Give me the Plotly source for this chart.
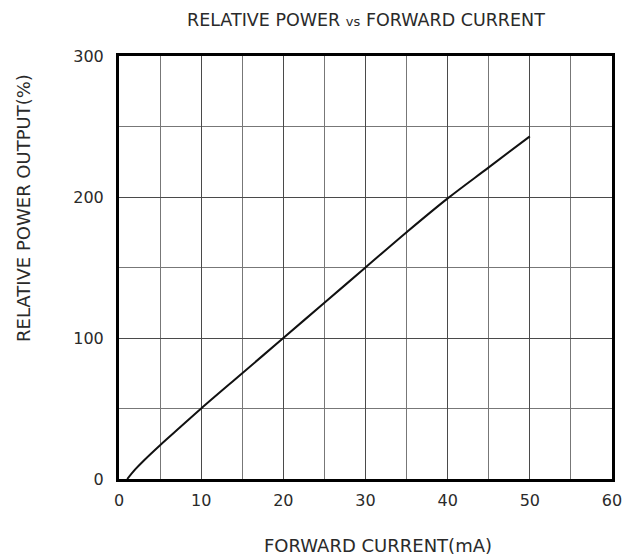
import plotly.graph_objects as go

current_ma = [1, 2, 3, 5, 7.5, 10, 15, 20, 25, 30, 35, 40, 45, 50]
relative_power = [0, 7, 13, 24, 37, 50, 75, 100, 125, 150, 175, 199, 221, 243]

x_ticks = [0, 10, 20, 30, 40, 50, 60]
y_ticks = [0, 100, 200, 300]

FONT = "DejaVu Sans"
TXT = "#2a2a2a"

# plot area in pixels
L, R, T, B = 119, 612, 56, 479
W, H = R - L, B - T


def px(xp):
    return (xp - L) / W


def py(yp):
    return (B - yp) / H


fig = go.Figure()
fig.add_trace(go.Scatter(
    x=current_ma, y=relative_power, mode="lines",
    line=dict(color="#111111", width=2, shape="spline"),
    showlegend=False, hoverinfo="skip",
))

fig.update_layout(
    width=636, height=558,
    margin=dict(l=L, r=636 - R, t=T, b=558 - B),
    paper_bgcolor="white", plot_bgcolor="white",
    font=dict(family=FONT, size=16, color=TXT),
    annotations=[
        dict(text="RELATIVE POWER <span style='font-size:13px'>vs</span> FORWARD CURRENT",
             xref="paper", yref="paper", x=px(366), y=py(20.5),
             xanchor="center", yanchor="middle", showarrow=False,
             font=dict(family=FONT, size=17.5, color=TXT)),
        dict(text="FORWARD CURRENT(mA)",
             xref="paper", yref="paper", x=px(378), y=py(545),
             xanchor="center", yanchor="middle", showarrow=False,
             font=dict(family=FONT, size=18, color=TXT)),
        dict(text="RELATIVE POWER OUTPUT(%)", textangle=-90,
             xref="paper", yref="paper", x=px(24), y=py(208),
             xanchor="center", yanchor="middle", showarrow=False,
             font=dict(family=FONT, size=18, color=TXT)),
    ],
)

fig.update_xaxes(
    range=[0, 60], tickvals=x_ticks, ticktext=[str(v) for v in x_ticks],
    showgrid=True, gridcolor="#4a4a4a", gridwidth=1,
    minor=dict(dtick=5, showgrid=True, gridcolor="#777777", gridwidth=1),
    showline=True, linecolor="black", linewidth=3, mirror=True,
    ticks="", ticklabelstandoff=5, zeroline=False,
    tickfont=dict(family=FONT, size=16, color=TXT),
)
fig.update_yaxes(
    range=[0, 300], tickvals=y_ticks, ticktext=[str(v) for v in y_ticks],
    showgrid=True, gridcolor="#4a4a4a", gridwidth=1,
    minor=dict(dtick=50, showgrid=True, gridcolor="#777777", gridwidth=1),
    showline=True, linecolor="black", linewidth=3, mirror=True,
    ticks="", ticklabelstandoff=9, zeroline=False,
    tickfont=dict(family=FONT, size=16, color=TXT),
)

fig.write_html("out.html")
